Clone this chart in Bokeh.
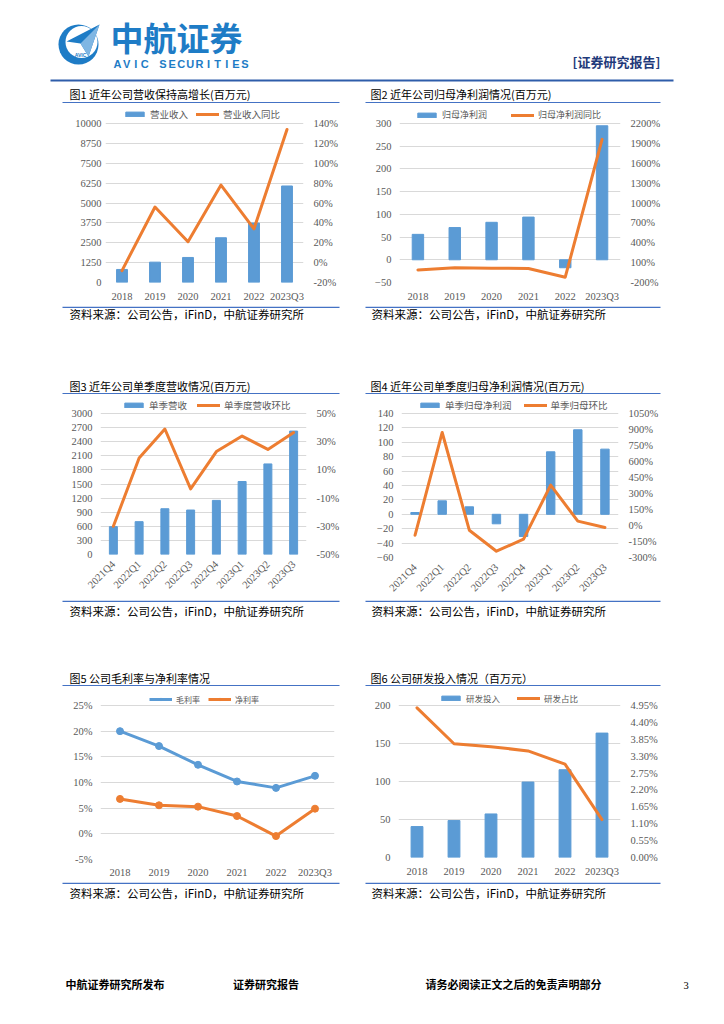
import math
from bokeh.plotting import figure
from bokeh.models import (ColumnDataSource, LinearAxis, Range1d, FactorRange, Legend, LegendItem,
                          Spacer, FixedTicker, PrintfTickFormatter)
from bokeh.layouts import column, row
from bokeh.embed import file_html
from bokeh.resources import INLINE
from bokeh.core.properties import value

# ---------------- data ----------------
years = ["2018", "2019", "2020", "2021", "2022", "2023Q3"]
revenue = [820, 1280, 1575, 2815, 3740, 6070]
revenue_yoy = [-8, 56, 21, 78, 34, 134]
net_profit = [56, 71, 82.5, 94, -17.5, 295]
net_profit_yoy = [-10, 22, 16, 12, -120, 1960]

quarters = ["2021Q4", "2022Q1", "2022Q2", "2022Q3", "2022Q4", "2023Q1", "2023Q2", "2023Q3"]
q_revenue = [593, 699, 974, 946, 1151, 1553, 1927, 2626]
q_revenue_qoq = [-30, 18.5, 39, -3.5, 23, 34, 24.5, 36.5]
q_profit = [2.5, 18.7, 10.4, -13.2, -30.8, 86.8, 117.4, 90.5]
q_profit_qoq = [-91, 872, -44, -241, -128, 378, 41, -19]

gross_margin = [20.0, 17.1, 13.45, 10.2, 8.95, 11.3]
net_margin = [6.8, 5.56, 5.3, 3.47, -0.44, 4.9]

rd_expense = [40.7, 48.6, 57.3, 99.3, 115.5, 163.7]
rd_ratio = [4.875, 3.705, 3.61, 3.47, 3.04, 1.235]

titles = ["图1  近年公司营收保持高增长(百万元)", "图2  近年公司归母净利润情况(百万元)",
          "图3  近年公司单季度营收情况(百万元)", "图4  近年公司单季度归母净利润情况(百万元)",
          "图5  公司毛利率与净利率情况", "图6  公司研发投入情况（百万元）"]
source_text = "资料来源：公司公告，iFinD，中航证券研究所"
footer_texts = ["中航证券研究所发布", "证券研究报告", "请务必阅读正文之后的免责声明部分"]
brand_cn = "中航证券"
brand_en = "AVIC SECURITIES"
report_tag = "[证券研究报告]"

BLUE = "#5B9BD5"
ORANGE = "#ED7D31"
GRID = "#D9D9D9"
TXT = "#595959"
LINEBLUE = "#4472C4"
CJK = "Noto Sans CJK SC"
NUM = "Liberation Serif"
LOGO = "#1E7CC6"
EXTRA = 18  # px of empty frame above the top gridline, used for the legend


def style_axis(ax, size="10.5px", standoff=8):
    ax.axis_line_color = None
    ax.major_tick_line_color = None
    ax.minor_tick_line_color = None
    ax.major_tick_out = 0
    ax.major_tick_in = 0
    ax.minor_tick_out = 0
    ax.minor_tick_in = 0
    ax.major_label_text_color = TXT
    ax.major_label_text_font = NUM
    ax.major_label_text_font_size = size
    ax.major_label_standoff = standoff


def ext(lo, hi, fh):
    return Range1d(lo, hi + (hi - lo) * EXTRA / fh)


def base_fig(cats, yl, lticks, fw, fh, bl, br, bt, bb, lfmt=None, lstand=8, xstand=8, rot=False):
    p = figure(x_range=FactorRange(*cats), y_range=ext(yl[0], yl[1], fh),
               frame_width=fw, frame_height=fh + EXTRA,
               output_backend="svg", toolbar_location=None,
               min_border_left=bl, min_border_right=br, min_border_top=bt - EXTRA,
               min_border_bottom=bb)
    p.outline_line_color = None
    p.xgrid.visible = False
    p.ygrid.ticker = FixedTicker(ticks=lticks)
    p.ygrid.grid_line_color = GRID
    p.yaxis.ticker = FixedTicker(ticks=lticks)
    if lfmt is not None:
        p.yaxis.formatter = lfmt
    style_axis(p.yaxis[0], standoff=lstand)
    style_axis(p.xaxis[0], standoff=xstand)
    if rot:
        p.xaxis.major_label_orientation = math.pi / 4
    return p


def add_right(p, yr, rticks, rfmt, fh):
    p.extra_y_ranges = {"r": ext(yr[0], yr[1], fh)}
    ax = LinearAxis(y_range_name="r", ticker=FixedTicker(ticks=rticks), formatter=rfmt)
    style_axis(ax, standoff=10)
    p.add_layout(ax, "right")


def add_legend(p, items, fs, spacing, loc):
    leg = Legend(items=items, orientation="horizontal", location=loc,
                 border_line_color=None, background_fill_alpha=0,
                 label_text_font=CJK, label_text_font_size=fs, label_text_color=TXT,
                 glyph_width=23, glyph_height=6, label_height=12, label_standoff=4,
                 spacing=spacing, padding=1, margin=0)
    p.add_layout(leg, "center")


def bar_line(cats, bars, line, bname, lname, yl, lticks, yr, rticks, rfmt, fw, fh, bl, br, bt, bb,
             fs, spacing, lx, ly, bw=0.32, lstand=8, rot=False):
    p = base_fig(cats, yl, lticks, fw, fh, bl, br, bt, bb, lstand=lstand, rot=rot)
    add_right(p, yr, rticks, rfmt, fh)
    src = ColumnDataSource(dict(x=cats, b=bars, l=line))
    vb = p.vbar(x="x", top="b", width=bw, source=src, fill_color=BLUE, line_color=BLUE)
    ln = p.line(x="x", y="l", source=src, y_range_name="r", line_color=ORANGE, line_width=3,
                line_join="round", line_cap="round")
    add_legend(p, [LegendItem(label=bname, renderers=[vb]), LegendItem(label=lname, renderers=[ln])],
               fs, spacing, (lx, fh + ly))
    return p


def deco_fig(h):
    p = figure(width=708, height=h, x_range=Range1d(0, 708), y_range=Range1d(0, h),
               output_backend="svg", toolbar_location=None, min_border=0,
               x_axis_location=None, y_axis_location=None)
    p.grid.visible = False
    p.outline_line_color = None
    return p


def title_strip(tl, tr, h, ty):
    p = deco_fig(h)
    p.text(x=[61, 362], y=[ty, ty], text=[tl, tr], text_font=value(CJK), text_font_size="11px",
           text_color="#000000", text_baseline="middle")
    p.segment(x0=[54, 357], y0=[0.8, 0.8], x1=[331, 652], y1=[0.8, 0.8],
              line_color=LINEBLUE, line_width=1.5)
    return p


def source_strip(h, ty):
    p = deco_fig(h)
    p.text(x=[61, 363], y=[ty, ty], text=[source_text, source_text], text_font=value(CJK),
           text_font_size="11.5px", text_color="#000000", text_baseline="middle")
    p.segment(x0=[54, 357], y0=[h - 0.8, h - 0.8], x1=[331, 652], y1=[h - 0.8, h - 0.8],
              line_color=LINEBLUE, line_width=1.5)
    return p


pct = PrintfTickFormatter(format="%d%%")

# ---------------- charts ----------------
c1 = bar_line(years, revenue, revenue_yoy, "营业收入", "营业收入同比",
              (0, 10000), list(range(0, 10001, 1250)), (-20, 140), list(range(-20, 141, 20)), pct,
              198, 159, 43, 36, 20, 24, "9.5px", 8, 18, 2, bw=0.33, lstand=4)
c2 = bar_line(years, net_profit, net_profit_yoy, "归母净利润", "归母净利润同比",
              (-50, 300), list(range(-50, 301, 50)), (-200, 2200), list(range(-200, 2201, 300)), pct,
              221, 159, 33, 41, 20, 24, "9px", 24, 16, 2, bw=0.31)
c3 = bar_line(quarters, q_revenue, q_revenue_qoq, "单季营收", "单季度营收环比",
              (0, 3000), list(range(0, 3001, 300)), (-50, 50), list(range(-50, 51, 20)), pct,
              206, 141, 38, 33, 19, 44, "9.5px", 10, 22, 1, bw=0.31, rot=True)
c4 = bar_line(quarters, q_profit, q_profit_qoq, "单季归母净利润", "单季归母环比",
              (-60, 140), list(range(-60, 141, 20)), (-300, 1050), list(range(-300, 1051, 150)), pct,
              217, 144, 33, 45, 19, 41, "9.5px", 12, 17, 1, bw=0.31, rot=True)

c5 = base_fig(years, (-5, 25), list(range(-5, 26, 5)), 234, 154, 38, 5, 19, 23, lfmt=pct, xstand=7)
s5 = ColumnDataSource(dict(x=years, g=gross_margin, n=net_margin))
g_line = c5.line(x="x", y="g", source=s5, line_color=BLUE, line_width=3, line_join="round")
g_pts = c5.scatter(x="x", y="g", source=s5, size=7, fill_color=BLUE, line_color=BLUE)
n_line = c5.line(x="x", y="n", source=s5, line_color=ORANGE, line_width=3, line_join="round")
n_pts = c5.scatter(x="x", y="n", source=s5, size=7, fill_color=ORANGE, line_color=ORANGE)
add_legend(c5, [LegendItem(label="毛利率", renderers=[g_line, g_pts]),
                LegendItem(label="净利率", renderers=[n_line, n_pts])], "8px", 8, (49, 154))

c6 = bar_line(years, rd_expense, rd_ratio, "研发投入", "研发占比",
              (0, 200), list(range(0, 201, 50)), (0, 4.95), [round(0.55 * i, 2) for i in range(10)],
              PrintfTickFormatter(format="%.2f%%"),
              222, 152, 33, 40, 19, 25, "8.5px", 17, 41, 1, bw=0.32)

# ---------------- header ----------------
hdr = deco_fig(78)
hdr.circle(x=[70], y=[42], radius=20, fill_color=LOGO, line_color=None)
hdr.circle(x=[73], y=[44.5], radius=16, fill_color="white", line_color=None)
hdr.patch(x=[91, 58, 72, 80], y=[62, 45, 43, 30], fill_color=LOGO, line_color=None)
hdr.patch(x=[91, 72, 80], y=[62, 43, 30], fill_color="#7FB6E3", line_color=None)
hdr.text(x=[72], y=[32], text=["AVIC"], text_font=value("Liberation Sans"), text_font_size="5px",
         text_color=LOGO, text_align="center", text_baseline="middle", text_font_style="bold")
hdr.text(x=[102], y=[50], text=[brand_cn], text_font=value(CJK), text_font_size="33px",
         text_font_style="bold", text_color=LOGO, text_baseline="middle")
en_chars = list(brand_en)
hdr.text(x=[109 + 9.1 * i for i in range(len(en_chars))], y=[22.5] * len(en_chars), text=en_chars,
         text_font=value("Liberation Sans"), text_font_size="11px", text_font_style="bold",
         text_color=LOGO, text_baseline="middle", text_align="center")
hdr.text(x=[564], y=[25.5], text=[report_tag], text_font=value(CJK), text_font_size="13px",
         text_font_style="bold", text_color="#1F3A7A", text_baseline="middle")
hdr.segment(x0=[42], y0=[6], x1=[665], y1=[6], line_color="#2E5DAA", line_width=2)

# ---------------- footer ----------------
ftr = deco_fig(28)
ftr.text(x=[57, 224.5, 417], y=[14.5, 14.5, 14.5], text=footer_texts,
         text_font=value(CJK), text_font_size="11px", text_font_style="bold",
         text_color="#000000", text_baseline="middle")
ftr.text(x=[675], y=[13.5], text=["3"], text_font=value(NUM), text_font_size="10.5px",
         text_color="#000000", text_baseline="middle")


def chart_row(a, b):
    return row(Spacer(width=54, height=4), a, Spacer(width=26, height=4), b, spacing=0)


body = column(
    Spacer(width=10, height=8),
    hdr,
    title_strip(titles[0], titles[1], 17, 9.5),
    chart_row(c1, c2),
    source_strip(18, 11),
    Spacer(width=10, height=52),
    title_strip(titles[2], titles[3], 18, 9),
    chart_row(c3, c4),
    source_strip(18, 8),
    Spacer(width=10, height=50),
    title_strip(titles[4], titles[5], 18, 9),
    chart_row(c5, c6),
    source_strip(18, 8),
    Spacer(width=10, height=70),
    ftr,
    spacing=0)
page = row(Spacer(width=8, height=10), body, spacing=0)

open("out.html", "w").write(file_html(page, INLINE))
